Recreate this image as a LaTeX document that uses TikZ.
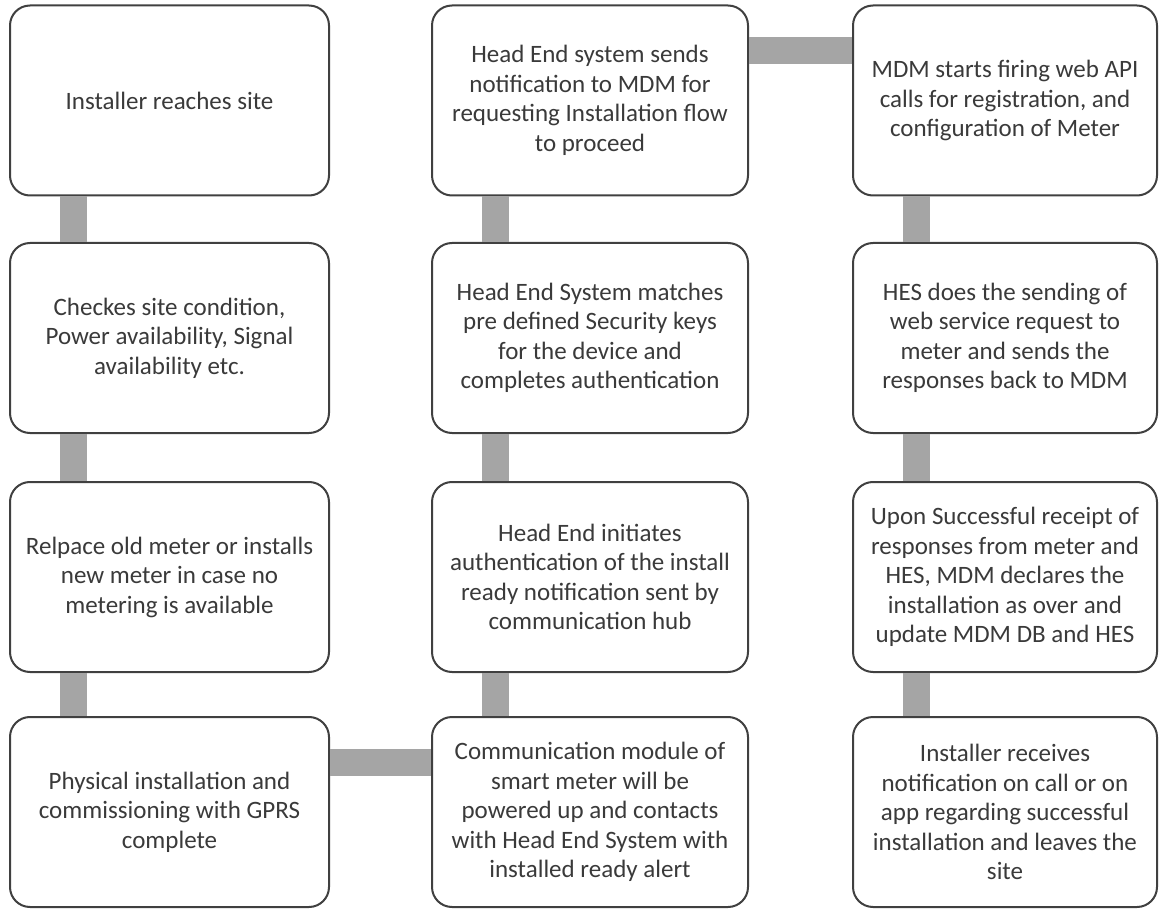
\documentclass[tikz,border=0pt]{standalone}
\usepackage{fontspec}
\setmainfont{Carlito}
\definecolor{barGray}{HTML}{A5A5A5}
\definecolor{edgeGray}{HTML}{404040}
\definecolor{textGray}{HTML}{3A3A3A}
\begin{document}
\begin{tikzpicture}[
    x=1pt, y=-1pt,
    stepbox/.style={rectangle, draw=edgeGray, line width=2pt, rounded corners=20pt, fill=white,
        minimum height=190pt, align=center, text=textGray, inner sep=0pt,
        font=\fontsize{25}{29.5}\selectfont},
    bar/.style={barGray, line width=27pt}
]
    \useasboundingbox (0,0) rectangle (1160,909);

    \node[stepbox, minimum width=319pt] (reach) at (169.5,100.5) {Installer reaches site};
    \node[stepbox, minimum width=319pt] (check) at (169.5,338) {Checkes site condition,\\Power  availability, Signal\\availability etc.};
    \node[stepbox, minimum width=319pt] (replace) at (169.5,577) {Relpace old meter  or installs\\new  meter  in case no\\metering  is available};
    \node[stepbox, minimum width=319pt] (physical) at (169.5,812) {Physical installation and\\commissioning  with GPRS\\complete};

    \node[stepbox, minimum width=316pt] (powered) at (590,812) {Communication module of\\smart meter  will be\\powered  up and contacts\\with Head End  System  with\\installed ready alert};
    \node[stepbox, minimum width=316pt] (initiate) at (590,577) {Head End  initiates\\authentication of the  install\\ready notification sent by\\communication hub};
    \node[stepbox, minimum width=316pt] (keys) at (590,338) {Head End System  matches\\pre defined  Security keys\\for the device and\\completes authentication};
    \node[stepbox, minimum width=316pt] (notify) at (590,100.5) {Head End  system sends\\notification to MDM  for\\requesting Installation flow\\to proceed};

    \node[stepbox, minimum width=304pt] (api) at (1005,100.5) {MDM  starts firing web API\\calls for registration, and\\configuration of Meter};
    \node[stepbox, minimum width=304pt] (hes) at (1005,338) {HES  does the  sending of\\web  service request to\\meter  and sends the\\responses back to MDM};
    \node[stepbox, minimum width=304pt] (declare) at (1005,577) {Upon  Successful receipt of\\responses from meter  and\\HES,  MDM  declares the\\installation as over and\\update  MDM  DB and HES};
    \node[stepbox, minimum width=304pt] (leave) at (1005,812) {Installer receives\\notification on call or on\\app regarding successful\\installation and leaves the\\site};

    \draw[bar] ([xshift=64pt]reach.south west) -- ([xshift=64pt]check.north west);
    \draw[bar] ([xshift=64pt]check.south west) -- ([xshift=64pt]replace.north west);
    \draw[bar] ([xshift=64pt]replace.south west) -- ([xshift=64pt]physical.north west);
    \draw[bar] ([yshift=-46pt]physical.north east) -- ([yshift=-46pt]powered.north west);
    \draw[bar] ([xshift=64pt]powered.north west) -- ([xshift=64pt]initiate.south west);
    \draw[bar] ([xshift=64pt]initiate.north west) -- ([xshift=64pt]keys.south west);
    \draw[bar] ([xshift=64pt]keys.north west) -- ([xshift=64pt]notify.south west);
    \draw[bar] ([yshift=-46pt]notify.north east) -- ([yshift=-46pt]api.north west);
    \draw[bar] ([xshift=64pt]api.south west) -- ([xshift=64pt]hes.north west);
    \draw[bar] ([xshift=64pt]hes.south west) -- ([xshift=64pt]declare.north west);
    \draw[bar] ([xshift=64pt]declare.south west) -- ([xshift=64pt]leave.north west);
\end{tikzpicture}
\end{document}
